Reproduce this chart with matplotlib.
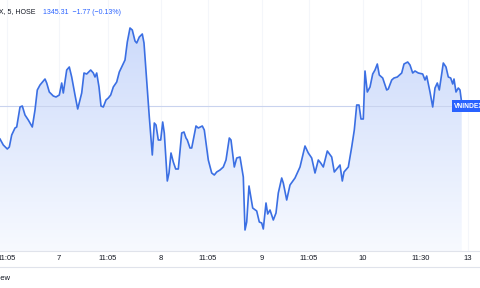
import matplotlib.pyplot as plt
import numpy as np
from matplotlib.patches import Polygon

plt.rcParams['font.family'] = ['Liberation Sans', 'DejaVu Sans']

# x: position on the time axis, price: index level
x = [0, 3.3, 7.3, 9.3, 11.7, 15, 16.7, 20, 22.3, 25, 28.3, 32.3, 35, 37.3, 40, 45, 46.7,
     49.3, 53.3, 56, 59.3, 61.7, 63.3, 66.7, 69.3, 71.7, 75, 77.7, 81.7, 84, 86.7, 90.7,
     93.3, 95, 96.7, 99, 101, 103.3, 106, 108.3, 110.7, 113.3, 116.7, 119.3, 121.7, 125,
     127.3, 130, 132.3, 135, 136.7, 139.3, 142.3, 144, 146.7, 149.3, 152.3, 154.3, 156,
     158.3, 160.7, 162.7, 164.3, 167.3, 169, 171, 173.3, 175.7, 178.3, 181.7, 184, 186,
     187.3, 190, 191.7, 196, 198.3, 202.3, 204.3, 208.3, 211.7, 214.3, 216.7, 220, 223.3,
     226, 229.3, 231, 234.3, 236.7, 240, 243.3, 245, 246.7, 249, 252.7, 256.7, 259.3,
     261.7, 263.3, 266, 267.7, 270, 273.3, 276, 278.3, 281.7, 283.3, 286.7, 290, 295,
     300, 305, 308.3, 311.7, 315, 318.3, 320.7, 323.3, 327.3, 331.7, 334.3, 340, 342.3,
     344, 348.3, 351.7, 354.3, 356.7, 359, 361, 363.3, 365, 367.3, 370, 372.7, 375,
     377.3, 379.3, 382.7, 386.7, 388.3, 391.7, 394, 397.3, 401.7, 404, 407.7, 410,
     412.7, 415, 418.3, 422.7, 425, 426.7, 430, 432.7, 435, 437.3, 439.3, 443.3, 446,
     448.3, 450.7, 452.7, 454, 456, 458.3, 460, 461.7]
py = [139, 145, 149, 147, 135, 128, 127, 107, 106, 115, 120, 127, 110, 90, 85, 79, 83,
      92, 96, 97, 95, 83, 93, 70, 67, 77, 95, 109, 93, 73, 74, 70,
      73, 77, 73, 87, 106, 107, 100, 98, 95, 87, 82, 72, 67, 60,
      42, 28, 30, 41, 43, 37, 34, 43, 80, 117, 155, 123, 125,
      140, 140, 122, 133, 181, 173, 153, 162, 169, 169, 133, 132, 138,
      140, 148, 148, 126, 128, 126, 130, 160, 173, 175, 172, 170, 167,
      160, 138, 140, 167, 158, 157, 177, 230, 222, 186, 208, 211, 222,
      223, 229, 203, 214, 210, 220, 213, 193, 178, 183, 200, 185, 178,
      167, 146, 153, 158, 173, 160, 163, 167, 151, 157, 172, 165, 181,
      172, 167, 147, 130, 105, 105, 119, 119, 71, 92, 87, 74, 70,
      64, 75, 78, 90, 89, 80, 78, 77, 73, 64, 62, 65,
      73, 71, 73, 74, 80, 76, 92, 107, 88, 83, 90, 63, 67,
      77, 78, 84, 79, 92, 88, 90, 103]
last = 1345.31
price = [last + (106 - v) * 0.1 for v in py]

tick_pos = [7, 59, 108, 161, 208, 262, 309, 363, 421, 468]
tick_lab = ['11:05', '7', '11:05', '8', '11:05', '9', '11:05', '10', '11:30', '13']

blue = '#3b6fe3'
fig = plt.figure(figsize=(4.8, 2.88), dpi=100)
fig.patch.set_facecolor('white')
ax = fig.add_axes([0, 37 / 288, 1, 251 / 288])
ymax = last + 106 * 0.1
ymin = last - 145 * 0.1
ax.set_xlim(0, 480)
ax.set_ylim(ymin, ymax)

# faint grid
for t in tick_pos:
    ax.axvline(t, color='#f4f6fa', lw=0.8, zorder=0)

# gradient fill under the line
top_c = np.array([0.78, 0.84, 0.98])
bot_c = np.array([0.97, 0.98, 1.0])
k = np.linspace(0, 1, 256)[:, None]
grad = top_c * (1 - k) + bot_c * k
img = ax.imshow(grad[:, None, :], extent=[0, 480, ymin, ymax], aspect='auto',
                origin='upper', zorder=1)
poly = Polygon(list(zip(x, price)) + [(x[-1], ymin), (x[0], ymin)], closed=True,
               facecolor='none', edgecolor='none')
ax.add_patch(poly)
img.set_clip_path(poly)

ax.plot(x, price, color=blue, lw=1.2, zorder=3)
ax.axhline(last, color='#c9d3ee', lw=0.8, zorder=2)

ax.text(454, last, 'VNINDEX', color='white', fontsize=4.8, fontweight='bold',
        va='center', ha='left', zorder=5,
        bbox=dict(boxstyle='square,pad=0.35', fc='#2962ff', ec='none'))

ax.set_xticks([])
ax.set_yticks([])
for s in ax.spines.values():
    s.set_visible(False)

# header
fig.text(35 / 480, 1 - 12 / 288, 'VNINDEX, 5, HOSE', color='#131722', fontsize=5,
         ha='right', va='center')
fig.text(43 / 480, 1 - 12 / 288, '1345.31  \u22121.77 (\u22120.13%)', color='#2962ff',
         fontsize=5, ha='left', va='center')

# time axis
fig.add_artist(plt.Line2D([0, 1], [1 - 251 / 288] * 2, color='#e0e3eb', lw=0.8))
fig.add_artist(plt.Line2D([0, 1], [1 - 267 / 288] * 2, color='#e0e3eb', lw=0.8))
for p, l in zip(tick_pos, tick_lab):
    fig.text(p / 480, 1 - 259 / 288, l, color='#131722', fontsize=5.5, ha='center',
             va='center')
fig.text(11 / 480, 1 - 278 / 288, 'Overview', color='#131722', fontsize=5.5,
         ha='right', va='center')

fig.savefig('out.png', dpi=100)
